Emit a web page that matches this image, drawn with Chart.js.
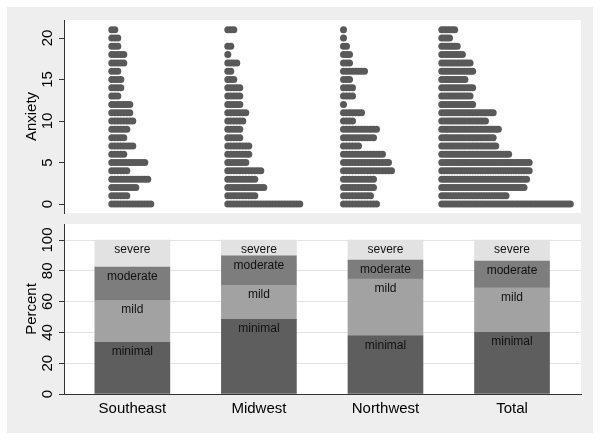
<!DOCTYPE html>
<html>
<head>
<meta charset="utf-8">
<script src="https://cdn.jsdelivr.net/npm/chart.js@4"></script>
<style>
  body { margin: 0; background: #fff; }
  #frame { position: absolute; left: 7px; top: 7px; width: 586px; height: 426px; background: #eeeeee; }
  #dots { position: absolute; left: 0; top: 0; }
  #bars { position: absolute; left: 0; top: 218px; }
</style>
</head>
<body>
<div id="frame"></div>
<canvas id="dots" width="601" height="218"></canvas>
<canvas id="bars" width="601" height="222"></canvas>
<script>
// data
const regions = ['Southeast', 'Midwest', 'Northwest', 'Total'];
const anxietyTicks = [0, 5, 10, 15, 20];
const percentTicks = [0, 20, 40, 60, 80, 100];

// number of dots at anxiety score 0..21
const southeast = [14, 6, 9, 13, 6, 12, 5, 8, 5, 6, 8, 7, 7, 3, 4, 4, 3, 5, 5, 3, 3, 2];
const midwest   = [25, 10, 13, 10, 12, 7, 8, 8, 5, 5, 6, 7, 5, 5, 5, 3, 2, 4, 1, 2, 0, 3];
const northwest = [12, 10, 11, 11, 17, 16, 14, 6, 11, 12, 4, 7, 1, 4, 4, 3, 8, 3, 3, 2, 1, 1];
const total     = [51, 26, 33, 34, 35, 35, 27, 22, 21, 23, 18, 21, 13, 12, 13, 10, 13, 12, 9, 7, 4, 6];

// percent in each severity group, per region
const severity = ['minimal', 'mild', 'moderate', 'severe'];
const minimal  = [33.5, 48.5, 37.7, 40.0];
const mild     = [27.2, 22.0, 36.9, 29.0];
const moderate = [21.7, 19.2, 12.4, 17.4];
const severe   = [17.6, 10.3, 13.0, 13.6];

const FONT = '"Liberation Sans", Arial, Helvetica, sans-serif';
const dotColumns = [southeast, midwest, northwest, total];
const dotBase = [47.8, 163.8, 279.5, 377.8];
const dotStep = [3, 3, 3, 2.57];
const barColors = ['#5e5e5e', '#a2a2a2', '#7d7d7d', '#e2e2e2'];

Chart.defaults.font.family = FONT;

const plotBackground = {
    id: 'plotBackground',
    beforeDraw(chart) {
        const a = chart.chartArea;
        chart.ctx.save();
        chart.ctx.fillStyle = '#ffffff';
        chart.ctx.fillRect(a.left, a.top, a.right - a.left, a.bottom - a.top);
        chart.ctx.restore();
    }
};

function sideLabels(title, ticks) {
    return {
        id: 'sideLabels',
        afterDraw(chart) {
            const ctx = chart.ctx;
            const y = chart.scales.y;
            const a = chart.chartArea;
            ctx.save();
            ctx.fillStyle = '#000';
            ctx.font = '15px ' + FONT;
            ctx.textAlign = 'center';
            ctx.textBaseline = 'middle';
            ticks.forEach(t => {
                ctx.save();
                ctx.translate(48, y.getPixelForValue(t));
                ctx.rotate(-Math.PI / 2);
                ctx.fillText(String(t), 0, 0);
                ctx.restore();
            });
            ctx.translate(31.5, (a.top + a.bottom) / 2);
            ctx.rotate(-Math.PI / 2);
            ctx.fillText(title, 0, 0);
            ctx.restore();
        }
    };
}

// top panel: dot plot
const dotDatasets = dotColumns.map((counts, g) => {
    const pts = [];
    counts.forEach((n, score) => {
        for (let k = 0; k < n; k++) {
            pts.push({ x: dotBase[g] + k * dotStep[g], y: score });
        }
    });
    return {
        label: regions[g],
        data: pts,
        pointRadius: 3.5,
        pointBorderWidth: 0,
        pointBackgroundColor: '#595959',
        pointHoverRadius: 3.5
    };
});

new Chart(document.getElementById('dots'), {
    type: 'scatter',
    data: { datasets: dotDatasets },
    options: {
        responsive: false,
        animation: false,
        events: [],
        layout: { padding: { top: 20, right: 20, bottom: 5, left: 0 } },
        plugins: { legend: { display: false }, tooltip: { enabled: false } },
        scales: {
            x: { type: 'linear', display: false, min: 0, max: 517 },
            y: {
                min: -1.08,
                max: 22.17,
                afterBuildTicks: axis => { axis.ticks = anxietyTicks.map(v => ({ value: v })); },
                afterFit: s => { s.width = 64; },
                ticks: { display: false },
                grid: { drawOnChartArea: false, tickLength: 5, color: '#333', tickColor: '#333' },
                border: { color: '#333', width: 1 }
            }
        }
    },
    plugins: [plotBackground, sideLabels('Anxiety', anxietyTicks)]
});

// bottom panel: stacked percent bars
const segmentValues = [minimal, mild, moderate, severe];
const barDatasets = severity.map((name, i) => ({
    label: name,
    data: segmentValues[i].map((v, j) => ({ x: j + 1, y: v })),
    backgroundColor: barColors[i],
    borderWidth: 0,
    barThickness: 75
}));

const segmentLabels = {
    id: 'segmentLabels',
    afterDatasetsDraw(chart) {
        const ctx = chart.ctx;
        ctx.save();
        ctx.fillStyle = '#111';
        ctx.font = '12px ' + FONT;
        ctx.textAlign = 'center';
        ctx.textBaseline = 'middle';
        chart.data.datasets.forEach((ds, i) => {
            chart.getDatasetMeta(i).data.forEach(bar => {
                ctx.fillText(ds.label, bar.x, bar.y + 9.5);
            });
        });
        ctx.restore();
    }
};

new Chart(document.getElementById('bars'), {
    type: 'bar',
    data: { datasets: barDatasets },
    options: {
        responsive: false,
        animation: false,
        events: [],
        layout: { padding: { top: 6, right: 20, bottom: 0, left: 0 } },
        plugins: { legend: { display: false }, tooltip: { enabled: false } },
        scales: {
            x: {
                type: 'linear',
                stacked: true,
                offset: false,
                min: 0.46,
                max: 4.545,
                afterBuildTicks: axis => { axis.ticks = regions.map((r, i) => ({ value: i + 1 })); },
                afterFit: s => { s.height = 46; },
                ticks: {
                    color: '#000',
                    font: { size: 15 },
                    padding: 6,
                    maxRotation: 0,
                    callback: v => regions[v - 1]
                },
                grid: { display: false, drawTicks: false },
                border: { display: true, color: '#333', width: 1 }
            },
            y: {
                stacked: true,
                min: 0,
                max: 110.4,
                afterBuildTicks: axis => { axis.ticks = percentTicks.map(v => ({ value: v })); },
                afterFit: s => { s.width = 64; },
                ticks: { display: false },
                grid: { color: '#e4e4e4', tickColor: '#333', tickLength: 5 },
                border: { color: '#333', width: 1 }
            }
        }
    },
    plugins: [plotBackground, sideLabels('Percent', percentTicks), segmentLabels]
});
</script>
</body>
</html>
